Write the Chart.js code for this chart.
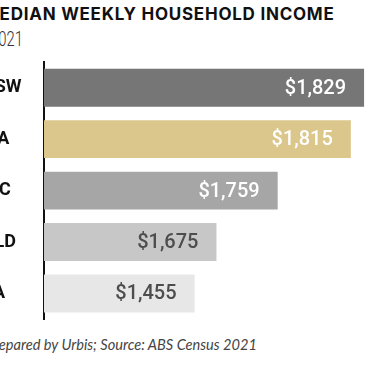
<!DOCTYPE html>
<html>
<head>
<meta charset="utf-8">
<script src="https://cdn.jsdelivr.net/npm/chart.js@4.4.1/dist/chart.umd.min.js"></script>
<style>
  html, body { margin: 0; padding: 0; background: #ffffff; }
  body { width: 375px; height: 366px; overflow: hidden; position: relative; }
  .title { position: absolute; left: -17px; top: 5px; font: 700 17px/18px Inter, Roboto, sans-serif; letter-spacing: 0.75px; color: #111; white-space: nowrap; }
  .subtitle { position: absolute; left: -10px; top: 29px; font: 300 20px/20px Roboto, sans-serif; color: #333; white-space: nowrap; transform: scaleX(0.74); transform-origin: left top; }
  .note { position: absolute; left: -14px; top: 337px; font: italic 400 14.6px/15px Lato, sans-serif; color: #444; white-space: nowrap; }
  #wrap { position: absolute; left: -30px; top: 50px; width: 405px; height: 280px; }
</style>
</head>
<body>
<div class="title">MEDIAN WEEKLY HOUSEHOLD INCOME</div>
<div class="subtitle">2021</div>
<div class="note">Prepared by Urbis; Source: ABS Census 2021</div>
<div id="wrap"><canvas id="c"></canvas></div>
<script>
// Categories (states)
const states = ['NSW', 'WA', 'VIC', 'QLD', 'SA'];
// Median weekly household income, 2021 (value labels)
const income = [1829, 1815, 1759, 1675, 1455];
// Bar lengths as drawn in the source graphic (relative units, % of plot width);
// the original infographic's bars are not drawn proportionally to the values.
const barLength = [96.7, 92.7, 70.6, 52.1, 45.5];
const barColors = ['#767676', '#dbc68b', '#a6a6a6', '#c7c7c7', '#e7e7e7'];
const labelColors = ['#ffffff', '#ffffff', '#ffffff', '#4d4d4d', '#4d4d4d'];

const valueLabels = {
  id: 'valueLabels',
  afterDatasetsDraw(chart) {
    const ctx = chart.ctx;
    const meta = chart.getDatasetMeta(0);
    ctx.save();
    ctx.font = '500 20px Roboto, sans-serif';
    ctx.textAlign = 'right';
    ctx.textBaseline = 'middle';
    meta.data.forEach((bar, i) => {
      ctx.fillStyle = labelColors[i];
      ctx.fillText('$' + income[i].toLocaleString('en-US'), bar.x - 18, bar.y + 1);
    });
    ctx.restore();
  }
};

new Chart(document.getElementById('c'), {
  type: 'bar',
  data: {
    labels: states,
    datasets: [{
      data: barLength,
      backgroundColor: barColors,
      borderWidth: 0,
      categoryPercentage: 0.8,
      barPercentage: 0.92
    }]
  },
  options: {
    indexAxis: 'y',
    responsive: true,
    maintainAspectRatio: false,
    animation: false,
    layout: { padding: { left: 12, right: 0, top: 12, bottom: 9 } },
    plugins: { legend: { display: false }, tooltip: { enabled: false }, title: { display: false } },
    scales: {
      x: { display: false, min: 0, max: 100 },
      y: {
        afterFit(scale) { scale.width = 62; },
        grid: { display: false, drawTicks: false },
        border: { display: true, color: '#111111', width: 2 },
        ticks: {
          crossAlign: 'far',
          padding: 0,
          color: '#111111',
          font: { family: 'Roboto', weight: '700', size: 18 }
        }
      }
    }
  },
  plugins: [valueLabels]
});
</script>
</body>
</html>
